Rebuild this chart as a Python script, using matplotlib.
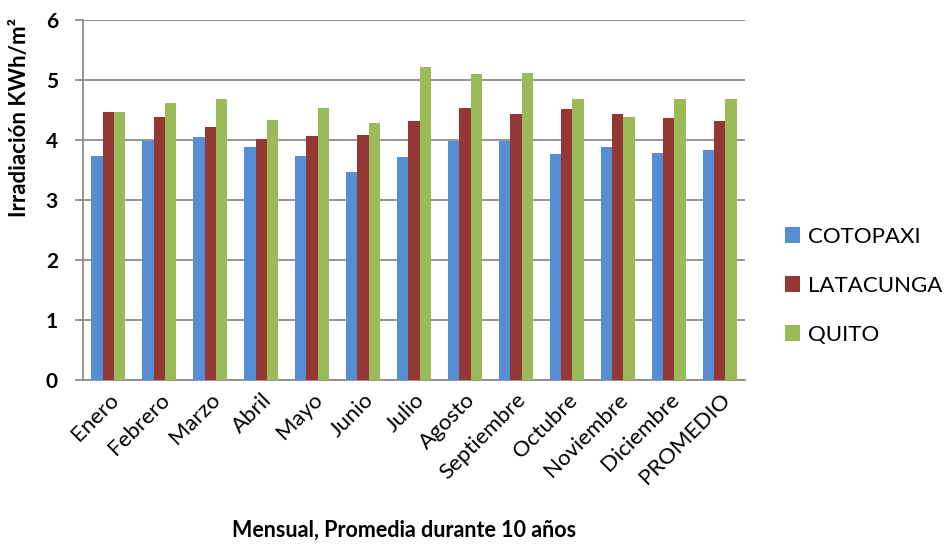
import numpy as np
import matplotlib
matplotlib.use("Agg")
import matplotlib.pyplot as plt

plt.rcParams['font.family'] = ['Lato', 'DejaVu Sans']

# monthly irradiation, averaged over 10 years
months = ['Enero', 'Febrero', 'Marzo', 'Abril', 'Mayo', 'Junio', 'Julio',
          'Agosto', 'Septiembre', 'Octubre', 'Noviembre', 'Diciembre', 'PROMEDIO']
cotopaxi  = [3.74, 3.99, 4.05, 3.88, 3.74, 3.47, 3.71, 3.98, 3.99, 3.77, 3.88, 3.79, 3.83]
latacunga = [4.47, 4.38, 4.21, 4.01, 4.07, 4.09, 4.32, 4.53, 4.44, 4.51, 4.44, 4.37, 4.32]
quito     = [4.47, 4.61, 4.68, 4.34, 4.54, 4.28, 5.21, 5.10, 5.11, 4.68, 4.38, 4.68, 4.68]
series_names = ['COTOPAXI', 'LATACUNGA', 'QUITO']
colors = ['#558ED5', '#953735', '#9BBB59']

fig = plt.figure(figsize=(9.45, 5.48), dpi=100)
ax = fig.add_axes([0.0878, 0.3066, 0.7006, 0.6569])

x = np.arange(len(months))
w = 0.2222
for i, (vals, name, c) in enumerate(zip([cotopaxi, latacunga, quito], series_names, colors)):
    ax.bar(x + (i - 1) * w, vals, w, color=c, label=name, zorder=3)

ax.set_xlim(-0.5, len(months) - 0.5)
ax.set_ylim(0, 6)
ax.set_yticks(range(7))
ax.grid(axis='y', color='#8c8c8c', linewidth=1.3, zorder=0)
for s in ['top', 'right']:
    ax.spines[s].set_visible(False)
for s in ['left', 'bottom']:
    ax.spines[s].set_color('#8c8c8c')
    ax.spines[s].set_linewidth(1.3)
ax.tick_params(axis='y', length=6, width=1.3, color='#8c8c8c', pad=12, labelsize=15)
ax.tick_params(axis='x', length=0, pad=7, labelsize=16)
ax.set_xticks(x)
ax.set_xticklabels(months, rotation=45, ha='right', rotation_mode='anchor')
for lab in ax.get_yticklabels():
    lab.set_fontweight('bold')

fig.text(0.021, 0.785, 'Irradiación KWh/m²', rotation=90, ha='center', va='center',
         fontsize=16, fontweight='bold')
fig.text(0.428, 0.032, 'Mensual, Promedia durante 10 años', ha='center', va='center',
         fontsize=15.5, fontweight='bold')

leg = ax.legend(loc='center left', bbox_to_anchor=(1.03, 0.262), frameon=False,
                fontsize=16, handlelength=0.7, handleheight=0.7, handletextpad=0.35,
                labelspacing=1.3)

plt.savefig('out.png', dpi=100)
